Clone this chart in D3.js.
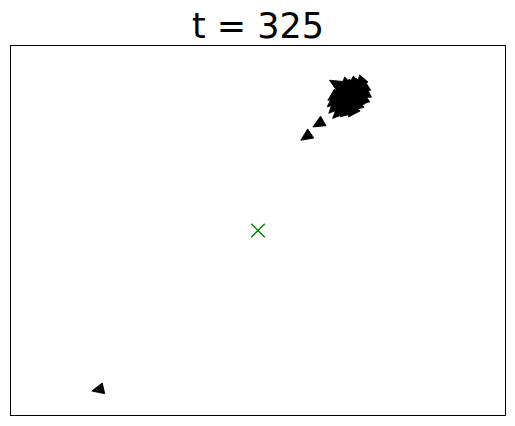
<!DOCTYPE html>
<html>
<head>
<meta charset="utf-8">
<script src="https://cdn.jsdelivr.net/npm/d3@7"></script>
<style>
  html, body { margin: 0; padding: 0; background: #fff; }
  svg { display: block; }
</style>
</head>
<body>
<div id="chart"></div>
<script>
// ---- data ----
const titleText = "t = 325";
const xDomain = [-100, 100];
const yDomain = [-75, 75];
const target = [[0, 0]];
// boid positions (data units) and headings (degrees, counter-clockwise from +x)
const boidX = [-64.2, 24.8, 19.8,
  31.5, 35.2, 38.4, 41.6,
  33.1, 36.4, 39.6, 42.8,
  30.7, 33.9, 37.2, 40.4, 43.2,
  30.3, 33.1, 36.4, 39.6, 42.4,
  30.7, 33.5, 36.8, 40.0,
  32.3, 35.6, 38.4,
  34.7, 38.0, 41.2, 32.3, 35.6, 38.8, 41.6,
  31.9, 35.2, 38.4, 41.2, 36.8, 40.0, 33.9, 37.2];
const boidY = [-64.4, 43.5, 38.3,
  59.4, 59.4, 59.8, 60.2,
  56.9, 57.4, 57.4, 57.8,
  54.5, 54.9, 54.9, 55.3, 55.3,
  52.1, 52.5, 52.5, 52.9, 52.9,
  49.7, 50.1, 50.1, 50.5,
  47.6, 48.0, 48.4,
  55.9, 56.1, 56.3, 53.5, 53.7, 53.9, 54.1,
  51.1, 51.3, 51.5, 51.7, 58.6, 58.8, 48.8, 49.0];
const boidHeading = [193, 210, 214,
  150, 222, 215, 230,
  208, 226, 218, 212,
  215, 232, 210, 224, 205,
  220, 236, 214, 228, 216,
  226, 212, 238, 220,
  225, 218, 232,
  219, 227, 211, 223, 216, 234, 209,
  229, 214, 221, 236, 217, 224, 230, 213];

// ---- layout ----
const W = 515, H = 426;
const plot = { left: 10.5, right: 505.5, top: 45.5, bottom: 415.5 };

const svg = d3.select("#chart").append("svg")
  .attr("width", W).attr("height", H);

const x = d3.scaleLinear().domain(xDomain).range([plot.left, plot.right]);
const y = d3.scaleLinear().domain(yDomain).range([plot.bottom, plot.top]);

svg.append("defs").append("clipPath").attr("id", "clip")
  .append("rect")
  .attr("x", plot.left).attr("y", plot.top)
  .attr("width", plot.right - plot.left).attr("height", plot.bottom - plot.top);

// title
svg.append("text")
  .attr("x", (plot.left + plot.right) / 2)
  .attr("y", 37.5)
  .attr("text-anchor", "middle")
  .attr("font-family", "DejaVu Sans, sans-serif")
  .attr("font-size", 35)
  .attr("fill", "#000")
  .text(titleText);

const g = svg.append("g").attr("clip-path", "url(#clip)");

// boids: arrow-head triangles pointing along heading
const triPath = "M7.5,0L-4.5,5.5L-4.5,-5.5Z";

const boids = boidX.map((bx, i) => ({ x: bx, y: boidY[i], h: boidHeading[i] }));

g.selectAll("path.boid").data(boids).join("path")
  .attr("class", "boid")
  .attr("d", triPath)
  .attr("transform", d => `translate(${x(d.x)},${y(d.y)}) rotate(${-d.h})`)
  .attr("fill", "#000")
  .attr("stroke", "#000")
  .attr("stroke-width", 0.8);

// target marker (green x)
const s = 6.8;
const tg = g.selectAll("g.target").data(target).join("g")
  .attr("class", "target")
  .attr("transform", d => `translate(${x(d[0])},${y(d[1])})`);
tg.append("path")
  .attr("d", `M${-s},${-s}L${s},${s}M${-s},${s}L${s},${-s}`)
  .attr("stroke", "#008000")
  .attr("stroke-width", 1.5)
  .attr("fill", "none");

// frame
svg.append("rect")
  .attr("x", plot.left).attr("y", plot.top)
  .attr("width", plot.right - plot.left).attr("height", plot.bottom - plot.top)
  .attr("fill", "none")
  .attr("stroke", "#000")
  .attr("stroke-width", 1);
</script>
</body>
</html>
